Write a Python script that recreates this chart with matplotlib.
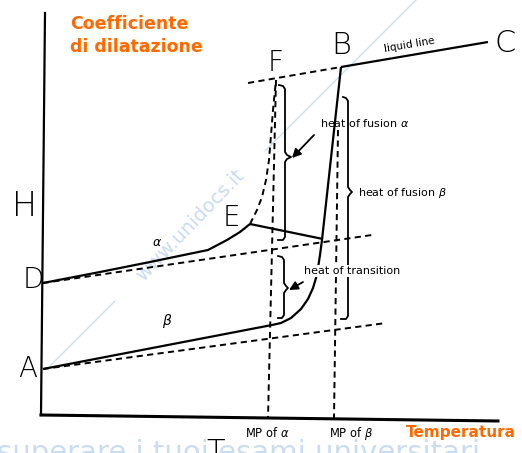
import matplotlib
matplotlib.use("Agg")
import matplotlib.pyplot as plt

# diagram coordinates (T to the right, H downward in image pixels)
axis_T = [45, 41, 498]
axis_H = [13, 415, 421]

alpha_T = [43, 100, 150, 208, 227, 240, 250]
alpha_H = [283, 272, 262, 250, 240, 232, 224]
alpha_ext_T = [43, 372]
alpha_ext_H = [283, 235]

beta_T = [43, 272, 281, 291, 301, 308, 313, 316, 318, 320, 322, 341]
beta_H = [369, 325, 323, 318, 309, 299, 288, 278, 268, 255, 240, 67]
beta_ext_T = [43, 386]
beta_ext_H = [369, 323]

ef_T = [250, 257, 262, 266, 269, 271, 273, 276]
ef_H = [224, 210, 197, 180, 160, 135, 110, 80]
e_line_T = [250, 323]
e_line_H = [224, 239]

liquid_T = [341, 488]
liquid_H = [67, 42]
liquid_ext_T = [248, 341]
liquid_ext_H = [83, 67]

mp_a_T = [276, 268]
mp_a_H = [80, 418]
mp_b_T = [338, 334]
mp_b_H = [130, 418]

brace_fa_T = [279, 283, 285, 285, 287, 291, 287, 285, 285, 283, 278]
brace_fa_H = [85, 86, 89, 152, 155, 157, 159, 162, 237, 240, 240]
brace_fb_T = [343, 346, 348, 348, 350, 352, 350, 348, 348, 346, 341]
brace_fb_H = [97, 98, 101, 187, 190, 192, 194, 197, 316, 319, 319]
brace_tr_T = [278, 282, 284, 284, 286, 288, 286, 284, 284, 282, 278]
brace_tr_H = [256, 257, 260, 283, 286, 288, 290, 293, 315, 318, 318]

arrows = [((314, 135), (292, 158)), ((303, 282), (289, 290))]

point_labels = ["H", "D", "A", "E", "F", "B", "C"]
point_T = [25, 33, 28, 231, 276, 341, 505]
point_H = [206, 280, 369, 218, 63, 46, 44]

orange = "#ff6a00"
wm_blue = "#cadcf0"

fig = plt.figure(figsize=(5.22, 4.53), dpi=100)
ax = fig.add_axes([0, 0, 1, 1])
ax.set_xlim(0, 522)
ax.set_ylim(453, 0)
ax.axis("off")

# watermark
ax.text(-3, 439, "superare i tuoi esami universitari", color=wm_blue,
        fontsize=21, va="top", ha="left", zorder=0)
ax.text(190, 225, "www.unidocs.it", color=wm_blue, fontsize=14,
        rotation=46, ha="center", va="center", zorder=0)
ax.plot([50, 115], [366, 301], color=wm_blue, lw=0.9, zorder=0)
ax.plot([265, 420], [151, -4], color=wm_blue, lw=0.9, zorder=0)

k = "black"
ax.plot(axis_T[:2], axis_H[:2], color=k, lw=1.6)
ax.plot(axis_T[1:], axis_H[1:], color=k, lw=2.2)

solid = dict(color=k, lw=1.6, solid_capstyle="butt")
dash = dict(color=k, lw=1.4, dashes=(3.2, 2.2))

ax.plot(alpha_T, alpha_H, **solid)
ax.plot(beta_T, beta_H, **solid)
ax.plot(e_line_T, e_line_H, **solid)
ax.plot(liquid_T, liquid_H, **solid)
ax.plot(alpha_ext_T, alpha_ext_H, **dash)
ax.plot(beta_ext_T, beta_ext_H, **dash)
ax.plot(ef_T, ef_H, **dash)
ax.plot(liquid_ext_T, liquid_ext_H, **dash)
ax.plot(mp_a_T, mp_a_H, **dash)
ax.plot(mp_b_T, mp_b_H, **dash)

for bt, bh in [(brace_fa_T, brace_fa_H), (brace_fb_T, brace_fb_H), (brace_tr_T, brace_tr_H)]:
    ax.plot(bt, bh, color=k, lw=1.3)

for start, end in arrows:
    ax.annotate("", xy=end, xytext=start,
                arrowprops=dict(arrowstyle="-|>", color=k, lw=1.3,
                                mutation_scale=13, shrinkA=0, shrinkB=0))

sizes = [24, 20, 20, 20, 20, 22, 22]
for lab, t, h, s in zip(point_labels, point_T, point_H, sizes):
    ax.text(t, h, lab, fontsize=s, ha="center", va="center",
            fontfamily="DejaVu Sans", fontweight="ultralight")
ax.text(216, 438, "T", fontsize=22, ha="center", va="top",
        fontweight="ultralight")

ax.text(157, 242, r"$\alpha$", fontsize=9, ha="center", va="center")
ax.text(167, 321, r"$\beta$", fontsize=10, ha="center", va="center")

small = dict(fontsize=8, ha="center", va="center", fontfamily="DejaVu Sans")
ax.text(409, 45, "liquid line", rotation=9.5, fontsize=7.5, ha="center", va="center")
ax.text(365, 123, r"heat of fusion $\alpha$", **small)
ax.text(402, 193, r"heat of fusion $\beta$", **small)
ax.text(352, 271, "heat of transition",
        bbox=dict(facecolor="white", edgecolor="none", pad=1), **small)
ax.text(267, 433, r"MP of $\alpha$", fontsize=8.3, ha="center", va="center")
ax.text(351, 433, r"MP of $\beta$", fontsize=8.3, ha="center", va="center")

ax.text(70, 15, "Coefficiente\ndi dilatazione", color=orange, fontsize=12.5,
        fontweight="bold", ha="left", va="top", linespacing=1.35)
ax.text(461, 433, "Temperatura", color=orange, fontsize=11,
        fontweight="bold", ha="center", va="center")

fig.savefig("out.png", dpi=100)
